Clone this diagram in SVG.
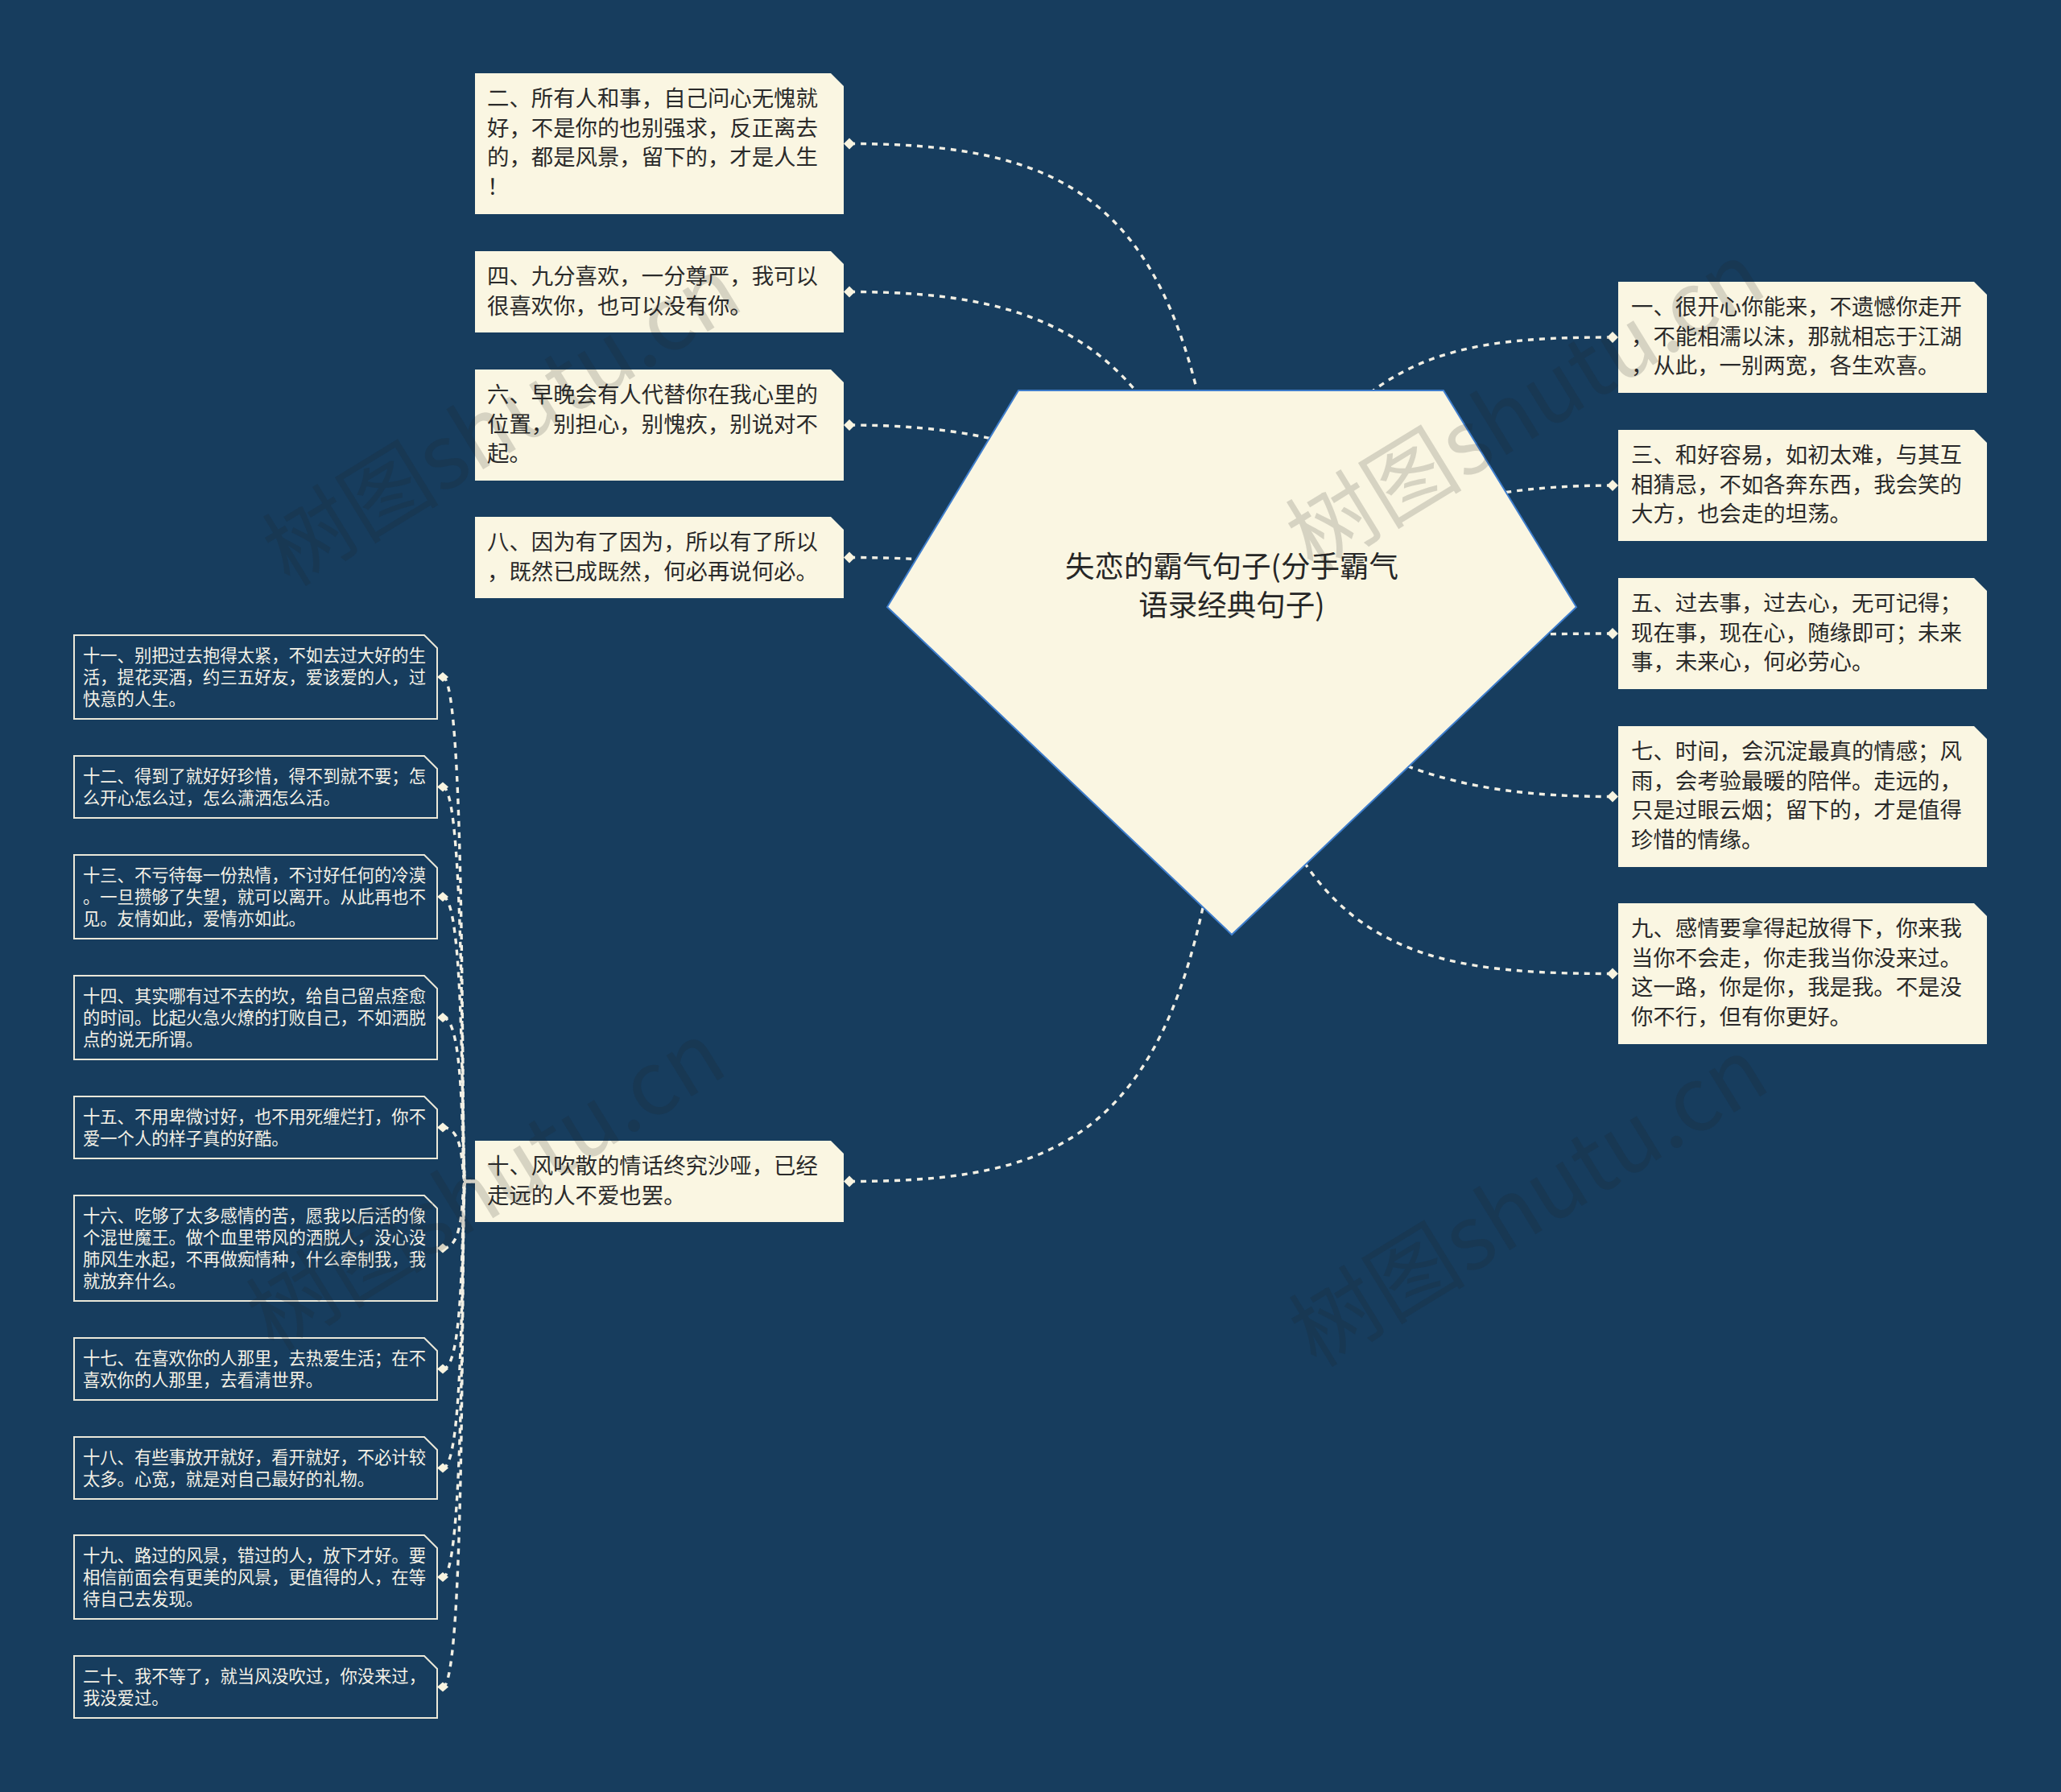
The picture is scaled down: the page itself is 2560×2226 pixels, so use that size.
<svg xmlns="http://www.w3.org/2000/svg" width="2560" height="2226" viewBox="0 0 2560 2226">
<style>
.bg{fill:#173d5e}
.conn{fill:none;stroke:#f1efe4;stroke-width:3.4;stroke-dasharray:7 7}
.big{fill:#faf6e2}
.small{fill:#173d5e;stroke:#ebe8d9;stroke-width:2}
.dia{fill:#f8f4e0}
.tb{font-family:"Noto Sans CJK SC","Noto Sans",sans-serif;font-size:27.4px;fill:#2a2a2a}
.ts{font-family:"Noto Sans CJK SC","Noto Sans",sans-serif;font-size:21.3px;fill:#f4f1e6}
.tr{font-family:"Noto Sans CJK SC","Noto Sans",sans-serif;font-size:36.5px;fill:#262626;text-anchor:middle}
.wm{font-family:"Noto Sans CJK SC","Liberation Sans",sans-serif;font-size:110px;fill:#1e1e1e;fill-opacity:0.16}
</style>
<rect class="bg" x="0" y="0" width="2560" height="2226"/>

<g id="connectors">
<path class="conn" d="M 1055 178.5 C 1380 178.5, 1500 280, 1530 823"/>
<path class="conn" d="M 1055 362.5 C 1300 362.5, 1480 420, 1530 823"/>
<path class="conn" d="M 1055 528 C 1300 528, 1450 600, 1530 823"/>
<path class="conn" d="M 1055 692.5 C 1300 692.5, 1450 740, 1530 823"/>
<path class="conn" d="M 1055 1467.5 C 1350 1467.5, 1500 1400, 1530 823"/>
<path class="conn" d="M 2003 419 C 1780 419, 1620 440, 1530 823"/>
<path class="conn" d="M 2003 603 C 1800 603, 1650 650, 1530 823"/>
<path class="conn" d="M 2003 787 C 1800 787, 1650 800, 1530 823"/>
<path class="conn" d="M 2003 989.5 C 1800 989.5, 1700 950, 1530 823"/>
<path class="conn" d="M 2003 1209.5 C 1750 1209.5, 1600 1180, 1530 823"/>
<path class="conn" d="M 550 841 C 580 841, 572 1467.5, 578 1467.5 L 590 1467.5"/>
<path class="conn" d="M 550 977.5 C 580 977.5, 572 1467.5, 578 1467.5 L 590 1467.5"/>
<path class="conn" d="M 550 1114 C 580 1114, 572 1467.5, 578 1467.5 L 590 1467.5"/>
<path class="conn" d="M 550 1264 C 580 1264, 572 1467.5, 578 1467.5 L 590 1467.5"/>
<path class="conn" d="M 550 1400.5 C 580 1400.5, 572 1467.5, 578 1467.5 L 590 1467.5"/>
<path class="conn" d="M 550 1550.5 C 580 1550.5, 572 1467.5, 578 1467.5 L 590 1467.5"/>
<path class="conn" d="M 550 1700.5 C 580 1700.5, 572 1467.5, 578 1467.5 L 590 1467.5"/>
<path class="conn" d="M 550 1823.5 C 580 1823.5, 572 1467.5, 578 1467.5 L 590 1467.5"/>
<path class="conn" d="M 550 1959 C 580 1959, 572 1467.5, 578 1467.5 L 590 1467.5"/>
<path class="conn" d="M 550 2095.5 C 580 2095.5, 572 1467.5, 578 1467.5 L 590 1467.5"/>
</g>

<g id="root">
<polygon points="1265,485 1793,485 1958,754 1530,1161 1102,754" fill="#faf6e2" stroke="#3e7dcc" stroke-width="2"/>
<text class="tr" x="1530" y="717">失恋的霸气句子(分手霸气</text>
<text class="tr" x="1530" y="765">语录经典句子)</text>
</g>

<g id="n2">
<path class="big" d="M 590 91 H 1032 L 1048 107 V 266 H 590 Z"/>
<text class="tb"><tspan x="605" y="132">二、所有人和事，自己问心无愧就</tspan><tspan x="605" y="168.7">好，不是你的也别强求，反正离去</tspan><tspan x="605" y="205.4">的，都是风景，留下的，才是人生</tspan><tspan x="605" y="242.1">！</tspan></text>
<polygon class="dia" points="1048,178.5 1055,171.5 1062,178.5 1055,185.5"/>
</g>
<g id="n4">
<path class="big" d="M 590 312 H 1032 L 1048 328 V 413 H 590 Z"/>
<text class="tb"><tspan x="605" y="353">四、九分喜欢，一分尊严，我可以</tspan><tspan x="605" y="389.7">很喜欢你，也可以没有你。</tspan></text>
<polygon class="dia" points="1048,362.5 1055,355.5 1062,362.5 1055,369.5"/>
</g>
<g id="n6">
<path class="big" d="M 590 459 H 1032 L 1048 475 V 597 H 590 Z"/>
<text class="tb"><tspan x="605" y="500">六、早晚会有人代替你在我心里的</tspan><tspan x="605" y="536.7">位置，别担心，别愧疚，别说对不</tspan><tspan x="605" y="573.4">起。</tspan></text>
<polygon class="dia" points="1048,528 1055,521 1062,528 1055,535"/>
</g>
<g id="n8">
<path class="big" d="M 590 642 H 1032 L 1048 658 V 743 H 590 Z"/>
<text class="tb"><tspan x="605" y="683">八、因为有了因为，所以有了所以</tspan><tspan x="605" y="719.7">，既然已成既然，何必再说何必。</tspan></text>
<polygon class="dia" points="1048,692.5 1055,685.5 1062,692.5 1055,699.5"/>
</g>
<g id="n10">
<path class="big" d="M 590 1417 H 1032 L 1048 1433 V 1518 H 590 Z"/>
<text class="tb"><tspan x="605" y="1458">十、风吹散的情话终究沙哑，已经</tspan><tspan x="605" y="1494.7">走远的人不爱也罢。</tspan></text>
<polygon class="dia" points="1048,1467.5 1055,1460.5 1062,1467.5 1055,1474.5"/>
</g>

<g id="n1">
<path class="big" d="M 2010 350 H 2452 L 2468 366 V 488 H 2010 Z"/>
<text class="tb"><tspan x="2026" y="391">一、很开心你能来，不遗憾你走开</tspan><tspan x="2026" y="427.7">，不能相濡以沫，那就相忘于江湖</tspan><tspan x="2026" y="464.4">，从此，一别两宽，各生欢喜。</tspan></text>
<polygon class="dia" points="1996,419 2003,412 2010,419 2003,426"/>
</g>
<g id="n3">
<path class="big" d="M 2010 534 H 2452 L 2468 550 V 672 H 2010 Z"/>
<text class="tb"><tspan x="2026" y="575">三、和好容易，如初太难，与其互</tspan><tspan x="2026" y="611.7">相猜忌，不如各奔东西，我会笑的</tspan><tspan x="2026" y="648.4">大方，也会走的坦荡。</tspan></text>
<polygon class="dia" points="1996,603 2003,596 2010,603 2003,610"/>
</g>
<g id="n5">
<path class="big" d="M 2010 718 H 2452 L 2468 734 V 856 H 2010 Z"/>
<text class="tb"><tspan x="2026" y="759">五、过去事，过去心，无可记得；</tspan><tspan x="2026" y="795.7">现在事，现在心，随缘即可；未来</tspan><tspan x="2026" y="832.4">事，未来心，何必劳心。</tspan></text>
<polygon class="dia" points="1996,787 2003,780 2010,787 2003,794"/>
</g>
<g id="n7">
<path class="big" d="M 2010 902 H 2452 L 2468 918 V 1077 H 2010 Z"/>
<text class="tb"><tspan x="2026" y="943">七、时间，会沉淀最真的情感；风</tspan><tspan x="2026" y="979.7">雨，会考验最暖的陪伴。走远的，</tspan><tspan x="2026" y="1016.4">只是过眼云烟；留下的，才是值得</tspan><tspan x="2026" y="1053.1">珍惜的情缘。</tspan></text>
<polygon class="dia" points="1996,989.5 2003,982.5 2010,989.5 2003,996.5"/>
</g>
<g id="n9">
<path class="big" d="M 2010 1122 H 2452 L 2468 1138 V 1297 H 2010 Z"/>
<text class="tb"><tspan x="2026" y="1163">九、感情要拿得起放得下，你来我</tspan><tspan x="2026" y="1199.7">当你不会走，你走我当你没来过。</tspan><tspan x="2026" y="1236.4">这一路，你是你，我是我。不是没</tspan><tspan x="2026" y="1273.1">你不行，但有你更好。</tspan></text>
<polygon class="dia" points="1996,1209.5 2003,1202.5 2010,1209.5 2003,1216.5"/>
</g>

<g id="n11">
<path class="small" d="M 92 789 H 527 L 543 805 V 893 H 92 Z"/>
<text class="ts"><tspan x="103" y="821.5">十一、别把过去抱得太紧，不如去过大好的生</tspan><tspan x="103" y="848.5">活，提花买酒，约三五好友，爱该爱的人，过</tspan><tspan x="103" y="875.5">快意的人生。</tspan></text>
<polygon class="dia" points="543,841 550,835 557,841 550,847"/>
</g>
<g id="n12">
<path class="small" d="M 92 939 H 527 L 543 955 V 1016 H 92 Z"/>
<text class="ts"><tspan x="103" y="971.5">十二、得到了就好好珍惜，得不到就不要；怎</tspan><tspan x="103" y="998.5">么开心怎么过，怎么潇洒怎么活。</tspan></text>
<polygon class="dia" points="543,977.5 550,971.5 557,977.5 550,983.5"/>
</g>
<g id="n13">
<path class="small" d="M 92 1062 H 527 L 543 1078 V 1166 H 92 Z"/>
<text class="ts"><tspan x="103" y="1094.5">十三、不亏待每一份热情，不讨好任何的冷漠</tspan><tspan x="103" y="1121.5">。一旦攒够了失望，就可以离开。从此再也不</tspan><tspan x="103" y="1148.5">见。友情如此，爱情亦如此。</tspan></text>
<polygon class="dia" points="543,1114 550,1108 557,1114 550,1120"/>
</g>
<g id="n14">
<path class="small" d="M 92 1212 H 527 L 543 1228 V 1316 H 92 Z"/>
<text class="ts"><tspan x="103" y="1244.5">十四、其实哪有过不去的坎，给自己留点痊愈</tspan><tspan x="103" y="1271.5">的时间。比起火急火燎的打败自己，不如洒脱</tspan><tspan x="103" y="1298.5">点的说无所谓。</tspan></text>
<polygon class="dia" points="543,1264 550,1258 557,1264 550,1270"/>
</g>
<g id="n15">
<path class="small" d="M 92 1362 H 527 L 543 1378 V 1439 H 92 Z"/>
<text class="ts"><tspan x="103" y="1394.5">十五、不用卑微讨好，也不用死缠烂打，你不</tspan><tspan x="103" y="1421.5">爱一个人的样子真的好酷。</tspan></text>
<polygon class="dia" points="543,1400.5 550,1394.5 557,1400.5 550,1406.5"/>
</g>
<g id="n16">
<path class="small" d="M 92 1485 H 527 L 543 1501 V 1616 H 92 Z"/>
<text class="ts"><tspan x="103" y="1517.5">十六、吃够了太多感情的苦，愿我以后活的像</tspan><tspan x="103" y="1544.5">个混世魔王。做个血里带风的洒脱人，没心没</tspan><tspan x="103" y="1571.5">肺风生水起，不再做痴情种，什么牵制我，我</tspan><tspan x="103" y="1598.5">就放弃什么。</tspan></text>
<polygon class="dia" points="543,1550.5 550,1544.5 557,1550.5 550,1556.5"/>
</g>
<g id="n17">
<path class="small" d="M 92 1662 H 527 L 543 1678 V 1739 H 92 Z"/>
<text class="ts"><tspan x="103" y="1694.5">十七、在喜欢你的人那里，去热爱生活；在不</tspan><tspan x="103" y="1721.5">喜欢你的人那里，去看清世界。</tspan></text>
<polygon class="dia" points="543,1700.5 550,1694.5 557,1700.5 550,1706.5"/>
</g>
<g id="n18">
<path class="small" d="M 92 1785 H 527 L 543 1801 V 1862 H 92 Z"/>
<text class="ts"><tspan x="103" y="1817.5">十八、有些事放开就好，看开就好，不必计较</tspan><tspan x="103" y="1844.5">太多。心宽，就是对自己最好的礼物。</tspan></text>
<polygon class="dia" points="543,1823.5 550,1817.5 557,1823.5 550,1829.5"/>
</g>
<g id="n19">
<path class="small" d="M 92 1907 H 527 L 543 1923 V 2011 H 92 Z"/>
<text class="ts"><tspan x="103" y="1939.5">十九、路过的风景，错过的人，放下才好。要</tspan><tspan x="103" y="1966.5">相信前面会有更美的风景，更值得的人，在等</tspan><tspan x="103" y="1993.5">待自己去发现。</tspan></text>
<polygon class="dia" points="543,1959 550,1953 557,1959 550,1965"/>
</g>
<g id="n20">
<path class="small" d="M 92 2057 H 527 L 543 2073 V 2134 H 92 Z"/>
<text class="ts"><tspan x="103" y="2089.5">二十、我不等了，就当风没吹过，你没来过，</tspan><tspan x="103" y="2116.5">我没爱过。</tspan></text>
<polygon class="dia" points="543,2095.5 550,2089.5 557,2095.5 550,2101.5"/>
</g>

<g id="watermarks">
<text class="wm" transform="translate(360 730) rotate(-31.5)">树图shutu.cn</text>
<text class="wm" transform="translate(1631 712) rotate(-31.5)">树图shutu.cn</text>
<text class="wm" transform="translate(340 1680) rotate(-31.5)">树图shutu.cn</text>
<text class="wm" transform="translate(1635 1700) rotate(-31.5)">树图shutu.cn</text>
</g>
</svg>
